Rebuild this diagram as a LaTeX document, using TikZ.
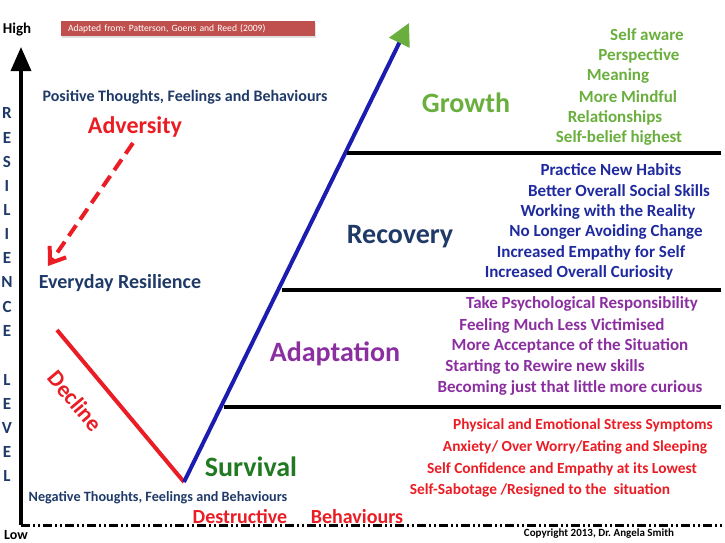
\documentclass[tikz,border=0pt]{standalone}
\usepackage{fontspec}
\setmainfont{Carlito}
\usetikzlibrary{arrows.meta, positioning, shadows}
\definecolor{cnavy}{HTML}{1F3A68}
\definecolor{cblue}{HTML}{1F2A9E}
\definecolor{cline}{HTML}{1C1CB0}
\definecolor{cgreen}{HTML}{6AAF3D}
\definecolor{cdkgreen}{HTML}{217A21}
\definecolor{cpurple}{HTML}{8B2FA0}
\definecolor{cred}{HTML}{EA1C24}
\definecolor{cbanner}{HTML}{C0504D}
\frenchspacing
\tikzset{
  every picture/.style={font=\bfseries},
  stage/.style={font=\bfseries\fontsize{28}{32}\selectfont, text=#1},
  item/.style={font=\bfseries\fontsize{17}{19}\selectfont, text=#1, inner sep=0pt},
  letter/.style={font=\bfseries\fontsize{17}{19}\selectfont, text=cnavy, inner sep=0pt},
  band/.style={line width=4pt, draw=black},
  axis/.style={line width=3.5pt, draw=black},
}

\begin{document}
\begin{tikzpicture}[x=1pt, y=-1pt]
  \useasboundingbox (0,0) rectangle (725,542);
  % axes
  \coordinate (origin) at (21,525);
  \coordinate (top) at (21,47);
  \coordinate (right) at (722,525);
  \draw[axis, -{Triangle[length=24pt, width=20pt]}] (origin) -- (top);
  \draw[axis, line width=3pt, dash pattern=on 9pt off 3pt on 2pt off 3pt on 2pt off 3pt] (origin) -- (right);
  \node[font=\bfseries\fontsize{15}{17}\selectfont] (high) at (17,30) {High};
  \node[font=\bfseries\fontsize{14}{16}\selectfont, inner sep=0pt] (low) at (16,535) {Low};
  \foreach \c/\y in {R/113,E/138,S/162,I/186,L/210,I/234,E/258,N/282,C/307,E/331,L/380,E/404,V/428,E/452,L/476}
    \node[letter] at (7,\y) {\c};
  % source banner
  \node[fill=cbanner, text=white, font=\fontsize{9.6}{12}\selectfont, text width=240pt, align=left,
        minimum height=15pt, inner xsep=7pt, inner ysep=0pt,
        drop shadow={opacity=0.25, shadow xshift=1pt, shadow yshift=-1.5pt}] (source) at (188,28.5)
        {Adapted from: Patterson, Goens and Reed (2009)};
  % left side
  \node[font=\bfseries\fontsize{16}{18}\selectfont, text=cnavy] (positive) at (185,97) {Positive Thoughts, Feelings and Behaviours};
  \node[font=\bfseries\fontsize{24}{28}\selectfont, text=cred] (adversity) at (135,127) {Adversity};
  \node[font=\bfseries\fontsize{20}{22}\selectfont, text=cnavy] (everyday) at (120,283) {Everyday Resilience};
  \coordinate (advstart) at (133,143);
  \coordinate (advend) at (48,266);
  \draw[cred, line width=4pt, dash pattern=on 13pt off 7pt, -{Straight Barb[length=14pt, width=20pt, line width=4pt]}] (advstart) -- (advend);
  % the curve
  \coordinate (declstart) at (57,330);
  \coordinate (bottom) at (184,482);
  \coordinate (peak) at (409,23);
  \draw[cred, line width=4pt] (declstart) -- (bottom);
  \draw[cline, line width=4pt, -{Triangle[length=22pt, width=22pt, color=cgreen]}] (bottom) -- (peak);
  \node[font=\bfseries\fontsize{23}{26}\selectfont, text=cred, rotate=-50, inner sep=0pt] (decline) at (75,401) {Decline};
  \node[font=\bfseries\fontsize{14.2}{16}\selectfont, text=cnavy] (negative) at (158,498) {Negative Thoughts, Feelings and Behaviours};
  \node[font=\bfseries\fontsize{20}{22}\selectfont, text=cred] (destructive) at (240,517) {Destructive};
  \node[font=\bfseries\fontsize{20}{22}\selectfont, text=cred] (behaviours) at (357,517) {Behaviours};
  % bands
  \coordinate (g1) at (347,153); \coordinate (g2) at (721,153);
  \coordinate (r1) at (282,290); \coordinate (r2) at (721,290);
  \coordinate (a1) at (224,407); \coordinate (a2) at (721,407);
  \draw[band] (g1) -- (g2);
  \draw[band] (r1) -- (r2);
  \draw[band] (a1) -- (a2);
  % stage names
  \node[stage=cgreen] (growth) at (466,103) {Growth};
  \node[stage=cnavy] (recovery) at (400,237) {Recovery};
  \node[stage=cpurple] (adaptation) at (335,354) {Adaptation};
  \node[stage=cdkgreen] (survival) at (251,467) {Survival};
  % what each stage brings
  \foreach \x/\y/\t in {647/35/Self aware, 639/56/Perspective, 618/76/Meaning,
                        628/97/More Mindful, 615/118/Relationships, 619/138/Self-belief highest}
    \node[item=cgreen] at (\x,\y) {\t};
  \foreach \x/\y/\t in {611/170/Practice New Habits, 619/191/Better Overall Social Skills,
                        608/212/Working with the Reality, 606/232/No Longer Avoiding Change,
                        591/253/Increased Empathy for Self, 579/273/Increased Overall Curiosity}
    \node[item=cblue] at (\x,\y) {\t};
  \foreach \x/\y/\t in {582/304/Take Psychological Responsibility, 562/326/Feeling Much Less Victimised,
                        570/346/More Acceptance of the Situation, 545/367/Starting to Rewire new skills,
                        570/388/Becoming just that little more curious}
    \node[item=cpurple] at (\x,\y) {\t};
  \foreach \x/\y/\t in {583/425/{Physical and Emotional Stress Symptoms},
                        575/447/{Anxiety/ Over Worry/Eating and Sleeping},
                        562/469/{Self Confidence and Empathy at its Lowest},
                        540/490/{Self-Sabotage /Resigned to the \ situation}}
    \node[item=cred, font=\bfseries\fontsize{15.4}{18}\selectfont] at (\x,\y) {\t};
  \node[font=\bfseries\fontsize{11}{13}\selectfont, inner sep=0pt] (copyright) at (599,534) {Copyright 2013, Dr. Angela Smith};
\end{tikzpicture}
\end{document}
